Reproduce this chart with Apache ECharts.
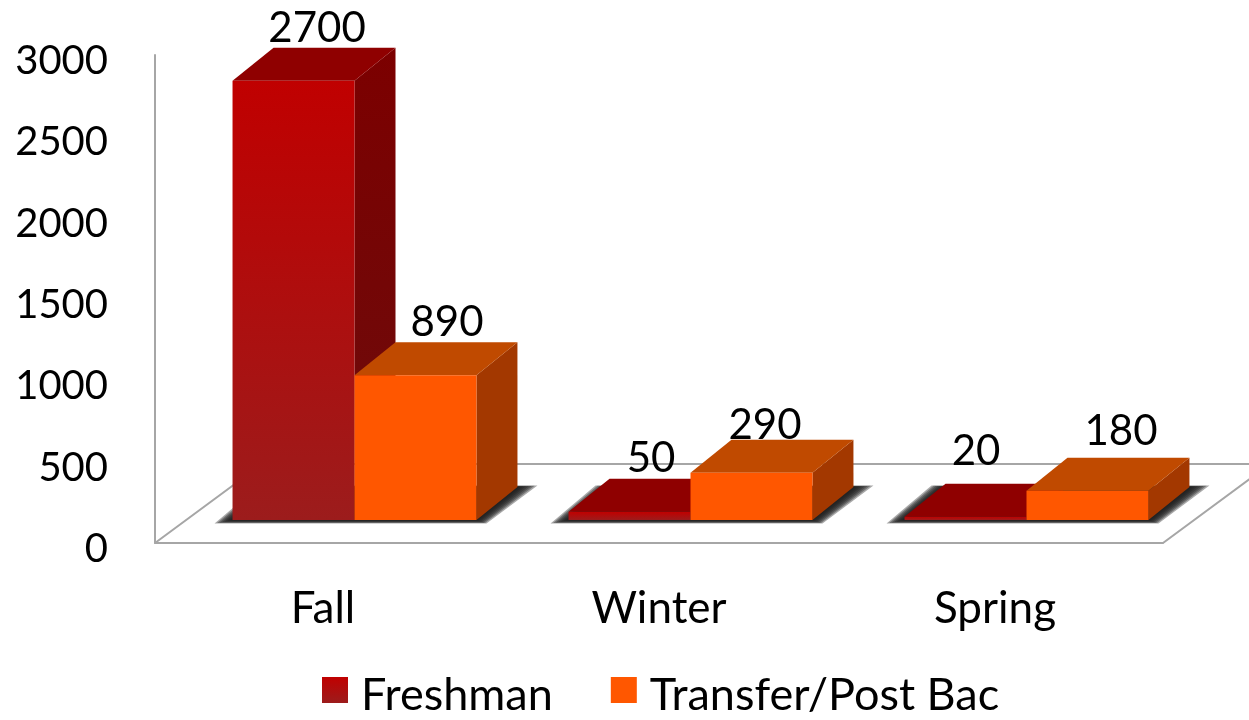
<!DOCTYPE html>
<html>
<head>
<meta charset="utf-8">
<title>Admissions by term</title>
<script src="https://cdn.jsdelivr.net/npm/echarts@6/dist/echarts.min.js"></script>
<style>
  html, body { margin: 0; padding: 0; background: #fff; }
  #main { width: 1249px; height: 720px; }
</style>
</head>
<body>
<div id="main"></div>
<script>
var categories = ['Fall', 'Winter', 'Spring']
var freshman = [2700, 50, 20]
var transfer = [890, 290, 180]
var yTicks = [0, 500, 1000, 1500, 2000, 2500, 3000]

// fake 3D look, all in pixels
var barLift = 23 // bars stand on the floor, above the axis line
var barShift = 31.5 // shared edge of the two bars, right of the category centre
var barRatio = 0.363
var depthX = 41
var depthY = 33
var floorX = 107
var floorY = 79
var lineColor = '#a6a6a6'
var fontName = 'Lato'
var shadowLayers = 8

// label nudges per category, the original labels are not centred
var freshmanNudge = [[3, -19], [1, -20], [-10, -32]]
var transferNudge = [[11, -20], [-7, -14], [13, -26]]

function gradient(from, to) {
  return new echarts.graphic.LinearGradient(0, 0, 0, 1, [
    { offset: 0, color: from },
    { offset: 1, color: to }
  ])
}

function poly(points, fill) {
  return { type: 'polygon', shape: { points: points }, style: { fill: fill } }
}

function renderFloor(params) {
  var c = params.coordSys
  var left = c.x
  var right = c.x + c.width
  var bottom = c.y + c.height
  return {
    type: 'polyline',
    silent: true,
    shape: {
      points: [
        [left, bottom],
        [left + floorX, bottom - floorY],
        [right + floorX, bottom - floorY],
        [right, bottom]
      ]
    },
    style: { fill: null, stroke: lineColor, lineWidth: 2 }
  }
}

// soft shadow on the floor, stacked see-through polygons shrinking towards the bar base
function renderShadow(params, api) {
  var p = api.coord([api.value(0), 0])
  var w = api.size([1, 0])[0] * barRatio
  var x0 = p[0] + barShift - w
  var x1 = p[0] + barShift + w
  var y = p[1] - barLift
  var children = []
  for (var k = 0; k < shadowLayers; k++) {
    var t = 1 - k / (shadowLayers - 1)
    children.push(poly([
      [x0 - 18 * t, y + 3.5 * t],
      [x1 + 10 * t, y + 3.5 * t],
      [x1 + depthX + 20 * t, y - depthY - 1.5 * t],
      [x0 + depthX - 14 * t, y - depthY - 1.5 * t]
    ], 'rgba(30,30,30,0.38)'))
  }
  return { type: 'group', silent: true, children: children }
}

function barRenderer(side, colors, nudges) {
  return function (params, api) {
    var idx = api.value(0)
    var top = api.coord([idx, api.value(1)])
    var base = api.coord([idx, 0])
    var w = api.size([1, 0])[0] * barRatio
    var x0 = base[0] + barShift + (side === 0 ? -w : 0)
    var x1 = x0 + w
    var yB = base[1] - barLift
    var yT = top[1] - barLift
    var nudge = nudges[params.dataIndex]
    return {
      type: 'group',
      silent: true,
      children: [
        poly([[x1, yT], [x1 + depthX, yT - depthY], [x1 + depthX, yB - depthY], [x1, yB]], colors.side),
        poly([[x0, yT], [x0 + depthX, yT - depthY], [x1 + depthX, yT - depthY], [x1, yT]], colors.top),
        { type: 'rect', shape: { x: x0, y: yT, width: w, height: yB - yT }, style: { fill: colors.front } },
        {
          type: 'text',
          style: {
            x: (x0 + x1 + depthX) / 2 + nudge[0],
            y: yT - depthY + nudge[1],
            text: String(api.value(1)),
            fill: '#000',
            font: '42px ' + fontName,
            align: 'center',
            verticalAlign: 'middle'
          }
        }
      ]
    }
  }
}

var freshmanColors = {
  front: gradient('#c00000', '#9c1c1c'),
  top: '#8f0000',
  side: gradient('#7c0000', '#6c0c0c')
}
var transferColors = {
  front: '#ff5700',
  top: '#c04a00',
  side: '#a33800'
}

var chart = echarts.init(document.getElementById('main'), null, { renderer: 'canvas' })

chart.setOption({
  backgroundColor: '#fff',
  animation: false,
  textStyle: { fontFamily: fontName },
  grid: { left: 155, top: 55, width: 1008, height: 488, containLabel: false },
  legend: {
    data: ['Freshman', 'Transfer/Post Bac'],
    left: 317,
    top: 668,
    icon: 'rect',
    itemWidth: 26,
    itemHeight: 26,
    itemGap: 58,
    selectedMode: false,
    formatter: '{a|{name}}',
    textStyle: {
      rich: {
        a: { color: '#000', fontSize: 45, fontFamily: fontName, padding: [11, 0, 0, 8] }
      }
    }
  },
  xAxis: {
    type: 'category',
    data: categories,
    axisTick: { show: false },
    axisLine: { lineStyle: { color: lineColor, width: 2 } },
    axisLabel: { color: '#000', fontSize: 44, fontFamily: fontName, margin: 44 }
  },
  yAxis: {
    type: 'value',
    min: yTicks[0],
    max: yTicks[yTicks.length - 1],
    interval: yTicks[1] - yTicks[0],
    axisTick: { show: false },
    splitLine: { show: false },
    axisLine: { show: true, lineStyle: { color: lineColor, width: 2 } },
    axisLabel: {
      color: '#000',
      fontSize: 40,
      fontFamily: fontName,
      margin: 47,
      verticalAlign: 'top',
      lineHeight: 12,
      formatter: function (v) { return String(v) }
    }
  },
  series: [
    {
      name: 'floor',
      type: 'custom',
      coordinateSystem: 'cartesian2d',
      clip: false,
      z: 1,
      renderItem: renderFloor,
      data: [[0, 0]]
    },
    {
      name: 'shadow',
      type: 'custom',
      clip: false,
      z: 2,
      renderItem: renderShadow,
      data: categories.map(function (c, i) { return [i, 0] })
    },
    {
      name: 'Freshman',
      type: 'custom',
      clip: false,
      z: 3,
      itemStyle: { color: gradient('#c00000', '#9c1c1c') },
      encode: { x: 0, y: 1 },
      renderItem: barRenderer(0, freshmanColors, freshmanNudge),
      data: freshman.map(function (v, i) { return [i, v] })
    },
    {
      name: 'Transfer/Post Bac',
      type: 'custom',
      clip: false,
      z: 4,
      itemStyle: { color: '#ff5700' },
      encode: { x: 0, y: 1 },
      renderItem: barRenderer(1, transferColors, transferNudge),
      data: transfer.map(function (v, i) { return [i, v] })
    }
  ]
})
</script>
</body>
</html>
